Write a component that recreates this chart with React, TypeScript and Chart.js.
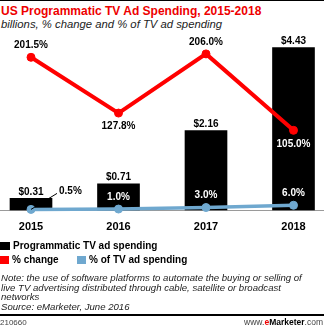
import React, { useEffect, useRef } from 'react';
import { Chart, registerables } from 'chart.js';

Chart.register(...registerables);

const years = ['2015', '2016', '2017', '2018'];
const spending = [0.31, 0.71, 2.16, 4.43];
const pctChange = [201.5, 127.8, 206.0, 105.0];
const pctOfTV = [0.5, 1.0, 3.0, 6.0];

const RED = '#ff0000';
const BLUE = '#6fa8cf';
const FONT = '"Liberation Sans", Arial, sans-serif';

const baselinePlugin = {
  id: 'baseline',
  beforeDatasetsDraw(chart: any) {
    const { ctx } = chart;
    const y = Math.round(chart.scales.y.getPixelForValue(0)) + 0.5;
    ctx.save();
    ctx.strokeStyle = '#9a9a9a';
    ctx.lineWidth = 1;
    ctx.beginPath();
    ctx.moveTo(0, y);
    ctx.lineTo(chart.width, y);
    ctx.stroke();
    ctx.restore();
  },
};

const labelPlugin = {
  id: 'valueLabels',
  afterDatasetsDraw(chart: any) {
    const { ctx } = chart;
    ctx.save();
    ctx.textAlign = 'center';
    ctx.textBaseline = 'middle';
    ctx.font = `bold 10px ${FONT}`;
    chart.data.datasets.forEach((ds: any, di: number) => {
      const meta = chart.getDatasetMeta(di);
      meta.data.forEach((el: any, i: number) => {
        const v = ds.data[i];
        if (ds.kind === 'bar') {
          ctx.fillStyle = '#000';
          ctx.fillText('$' + v.toFixed(2), el.x, el.y - 6.5);
        } else if (ds.kind === 'change') {
          const below = i % 2 === 1;
          ctx.fillStyle = i === 3 ? '#fff' : '#000';
          ctx.fillText(v.toFixed(1) + '%', el.x, below ? el.y + 13.5 : el.y - 12);
        } else if (ds.kind === 'share') {
          if (i === 0) {
            ctx.strokeStyle = '#000';
            ctx.lineWidth = 1;
            ctx.beginPath();
            ctx.moveTo(el.x, el.y);
            ctx.lineTo(el.x + 26, el.y - 16);
            ctx.stroke();
            ctx.fillStyle = '#000';
            ctx.textAlign = 'left';
            ctx.fillText(v.toFixed(1) + '%', el.x + 28, el.y - 18.5);
            ctx.textAlign = 'center';
          } else {
            ctx.fillStyle = '#fff';
            ctx.fillText(v.toFixed(1) + '%', el.x, el.y - 12);
          }
        }
      });
    });
    ctx.restore();
  },
};

export default function App() {
  const ref = useRef<HTMLCanvasElement>(null);

  useEffect(() => {
    if (!ref.current) return;
    const chart = new Chart(ref.current, {
      type: 'bar',
      data: {
        labels: years,
        datasets: [
          {
            kind: 'change',
            type: 'line',
            label: '% change',
            data: pctChange,
            yAxisID: 'y1',
            borderColor: RED,
            backgroundColor: RED,
            borderWidth: 4,
            pointRadius: 4,
            pointBorderWidth: 1,
            pointBackgroundColor: RED,
            pointBorderColor: RED,
            clip: false,
            order: 0,
          },
          {
            kind: 'share',
            type: 'line',
            label: '% of TV ad spending',
            data: pctOfTV,
            yAxisID: 'y1',
            borderColor: BLUE,
            backgroundColor: BLUE,
            borderWidth: 3.5,
            pointRadius: 4,
            pointBorderWidth: 1,
            pointBackgroundColor: BLUE,
            pointBorderColor: BLUE,
            clip: false,
            order: 1,
          },
          {
            kind: 'bar',
            type: 'bar',
            label: 'Programmatic TV ad spending',
            data: spending,
            yAxisID: 'y',
            backgroundColor: '#000',
            barThickness: 42,
            clip: false,
            order: 2,
          },
        ] as any,
      },
      options: {
        responsive: false,
        animation: false,
        layout: { padding: { left: 31, right: 30.5, top: 8, bottom: 3 } },
        plugins: {
          legend: { display: false },
          tooltip: { enabled: false },
          title: { display: false },
        },
        scales: {
          x: {
            offset: false,
            grid: { display: false },
            border: { display: false },
            ticks: {
              color: '#000',
              padding: 3,
              font: { family: FONT, size: 11, weight: 'bold' },
              maxRotation: 0,
            },
          },
          y: {
            display: false,
            min: 0,
            max: 4.69,
          },
          y1: {
            display: false,
            min: 0,
            max: 227,
          },
        },
      },
      plugins: [baselinePlugin, labelPlugin],
    } as any);
    return () => chart.destroy();
  }, []);

  const abs = (o: React.CSSProperties): React.CSSProperties => ({ position: 'absolute', whiteSpace: 'nowrap', ...o });

  return (
    <div
      style={{
        position: 'absolute',
        left: 0,
        top: 0,
        width: 324,
        height: 328,
        overflow: 'hidden',
        background: '#fff',
        fontFamily: FONT,
        color: '#000',
      }}
    >
      <div style={abs({ left: 0, top: 0, width: 324, height: 1, background: '#000' })} />
      <div style={abs({ left: 1, top: 3, fontSize: 12, lineHeight: '16px', fontWeight: 'bold', color: '#ee0000' })}>
        US Programmatic TV Ad Spending, 2015-2018
      </div>
      <div style={abs({ left: 1, top: 17, fontSize: 11.3, lineHeight: '14px', fontStyle: 'italic', color: '#222' })}>
        billions, % change and % of TV ad spending
      </div>
      <div style={abs({ left: 0, top: 30, width: 324, height: 210 })}>
        <canvas ref={ref} width={324} height={210} style={{ display: 'block' }} />
      </div>
      <div style={abs({ left: 0, top: 242, width: 10, height: 8, background: '#000' })} />
      <div style={abs({ left: 13, top: 239, fontSize: 10, lineHeight: '14px', fontWeight: 'bold' })}>
        Programmatic TV ad spending
      </div>
      <div style={abs({ left: 0, top: 256, width: 9, height: 8, background: RED })} />
      <div style={abs({ left: 12, top: 253, fontSize: 10, lineHeight: '14px', fontWeight: 'bold' })}>% change</div>
      <div style={abs({ left: 77, top: 256, width: 9, height: 8, background: BLUE })} />
      <div style={abs({ left: 89, top: 253, fontSize: 10, lineHeight: '14px', fontWeight: 'bold' })}>
        % of TV ad spending
      </div>
      <div style={abs({ left: 1, top: 273, fontSize: 9.6, lineHeight: '9.5px', fontStyle: 'italic', color: '#222' })}>
        <div>Note: the use of software platforms to automate the buying or selling of</div>
        <div>live TV advertising distributed through cable, satellite or broadcast</div>
        <div>networks</div>
        <div>Source: eMarketer, June 2016</div>
      </div>
      <div style={abs({ left: 0, top: 314, width: 324, height: 2, background: '#000' })} />
      <div style={abs({ left: 0, top: 317, fontSize: 8, lineHeight: '11px', color: '#444' })}>210660</div>
      <div style={abs({ right: 1, top: 317, fontSize: 8.5, lineHeight: '11px', color: '#444' })}>
        www.<span style={{ color: '#e00', fontWeight: 'bold' }}>e</span>
        <span style={{ color: '#000', fontWeight: 'bold' }}>Marketer</span>.com
      </div>
    </div>
  );
}
